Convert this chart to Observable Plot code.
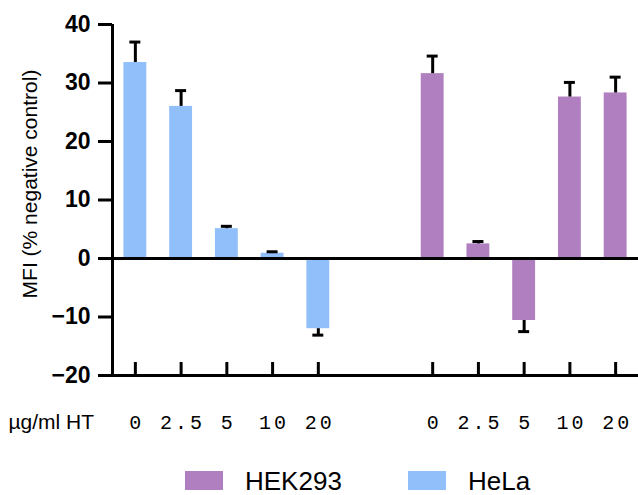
<!DOCTYPE html>
<html>
<head>
<meta charset="utf-8">
<script src="https://cdn.jsdelivr.net/npm/d3@7"></script>
<script src="https://cdn.jsdelivr.net/npm/@observablehq/plot@0.6"></script>
<style>
  body { margin: 0; background: #fff; font-family: "Liberation Sans", Arial, sans-serif; }
  #legend { position: relative; height: 45px; }
  .item { position: absolute; top: 0; display: flex; align-items: flex-start; }
  .sw { width: 38px; height: 19px; margin-top: 21px; }
  .lab { font-size: 26px; line-height: 26px; margin-left: 22px; margin-top: 18px; color: #000; }
  g[aria-label="x-axis tick label"] text { letter-spacing: 3px; }
</style>
</head>
<body>
<div id="chart"></div>
<div id="legend"></div>
<script>
const doses = ["0", "2.5", "5", "10", "20"];
const helaMean = [33.5, 26.0, 5.1, 0.9, -12.0];
const helaErr = [3.5, 2.7, 0.4, 0.25, 1.1];
const hekMean = [31.6, 2.5, -10.6, 27.6, 28.3];
const hekErr = [3.0, 0.4, 1.9, 2.5, 2.7];
const seriesNames = ["HEK293", "HeLa"];
const seriesColors = ["#AF7FBF", "#90BFF9"];
const yTicks = [-20, -10, 0, 10, 20, 30, 40];
const xLabel = "µg/ml HT";
const yLabel = "MFI (% negative control)";

// group layout: HeLa first, HEK293 second (offset in category steps)
const groupOffset = {HeLa: 0, HEK293: 6.5};
const rows = [];
doses.forEach((d, i) => rows.push({group: "HeLa", dose: d, pos: groupOffset.HeLa + i, value: helaMean[i], err: helaErr[i]}));
doses.forEach((d, i) => rows.push({group: "HEK293", dose: d, pos: groupOffset.HEK293 + i, value: hekMean[i], err: hekErr[i]}));
const tickLabel = new Map(rows.map(r => [r.pos, r.dose]));
const half = 0.25, capHalf = 0.12;
const color = {domain: seriesNames, range: seriesColors};
const frameH = 351;

const plot = Plot.plot({
  width: 638,
  height: 450,
  marginLeft: 112,
  marginRight: 0,
  marginTop: 24,
  marginBottom: 75,
  style: {fontFamily: "Liberation Sans, Arial, sans-serif", background: "#fff"},
  x: {domain: [-0.5, 11], type: "linear"},
  y: {domain: [-20, 40]},
  color,
  marks: [
    Plot.rect(rows, {x1: d => d.pos - half, x2: d => d.pos + half, y1: 0, y2: "value", fill: "group"}),
    Plot.ruleX(rows, {x: "pos", y1: "value", y2: d => d.value + Math.sign(d.value) * d.err, stroke: "#000", strokeWidth: 3}),
    Plot.ruleY(rows, {y: d => d.value + Math.sign(d.value) * d.err, x1: d => d.pos - capHalf, x2: d => d.pos + capHalf, stroke: "#000", strokeWidth: 3}),
    Plot.ruleY([0], {stroke: "#000", strokeWidth: 3}),
    Plot.ruleY([-20], {stroke: "#000", strokeWidth: 3}),
    Plot.ruleX([-0.5], {stroke: "#000", strokeWidth: 3}),
    Plot.tickX(rows, {x: "pos", stroke: "#000", strokeWidth: 3, insetTop: frameH - 13}),
    Plot.axisY({ticks: yTicks, tickSize: 14, tickPadding: 8, strokeWidth: 3, label: null,
      fontSize: 23, fontWeight: "bold"}),
    Plot.axisX({ticks: rows.map(r => r.pos), tickSize: 0, tickPadding: 39, label: null,
      tickFormat: p => tickLabel.get(p), fontSize: 20, fontFamily: "Liberation Mono, Courier New, monospace", dx: 1.5}),
    Plot.text([xLabel], {frameAnchor: "bottom-left", dx: -104, dy: 53, textAnchor: "start", fontSize: 21}),
    Plot.text([yLabel], {frameAnchor: "left", rotate: -90, dx: -82, dy: -16, textAnchor: "middle", fontSize: 21})
  ]
});
document.getElementById("chart").appendChild(plot);

const legend = document.getElementById("legend");
const lefts = [185, 408];
seriesNames.forEach((n, i) => {
  const it = document.createElement("div");
  it.className = "item";
  it.style.left = lefts[i] + "px";
  it.innerHTML = `<div class="sw" style="background:${seriesColors[i]}"></div><div class="lab">${n}</div>`;
  legend.appendChild(it);
});
</script>
</body>
</html>
